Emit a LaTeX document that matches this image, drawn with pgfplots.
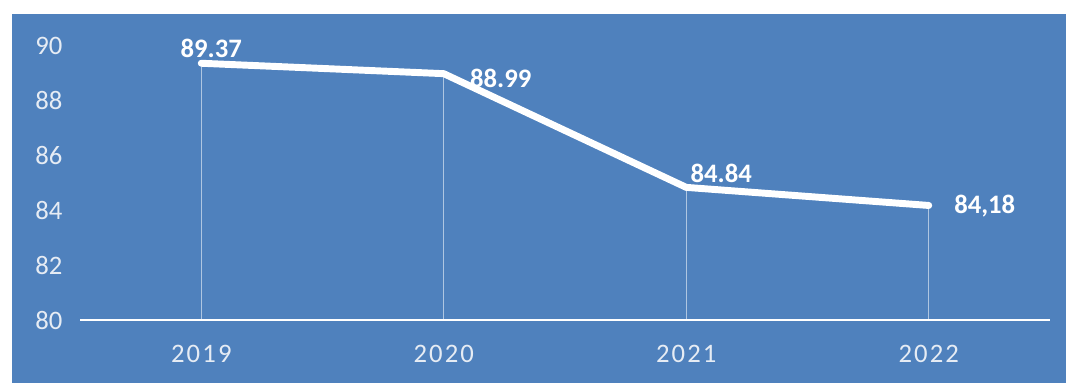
\documentclass[border=0pt]{standalone}
\usepackage{fontspec}
\setmainfont{Carlito}
\newfontfamily\spaced[LetterSpace=8]{Carlito}
\usepackage{pgfplots}
\usepackage{pgfplotstable}
\pgfplotsset{compat=1.18}
\definecolor{bgblue}{RGB}{79,129,189}
\definecolor{ticktext}{RGB}{230,236,244}

\pgfplotstableread{
x y lab dx dy
0 89.37 89.37 7.5 11.25
1 88.99 88.99 42.75 -3.75
2 84.84 84.84 26.25 10.5
3 84.18 84,18 42 -0.75
}\datatable

\begin{document}
\begin{tikzpicture}
\begin{axis}[
  set layers,
  scale only axis,
  width=727.5pt, height=205.5pt,
  xmin=-0.5, xmax=3.5,
  ymin=80, ymax=90,
  clip mode=individual,
  axis x line=bottom,
  axis y line=left,
  x axis line style={-, draw=white, line width=1.5pt},
  y axis line style={draw=none},
  major tick length=0pt,
  xtick={0,1,2,3},
  xticklabels={2019,2020,2021,2022},
  ytick={80,82,...,90},
  /pgf/number format/assume math mode=true,
  tick label style={font=\fontsize{20}{24}\selectfont, text=ticktext},
  xticklabel style={font=\fontsize{20}{24}\selectfont\spaced, anchor=north, inner sep=0pt, yshift=-19pt},
  yticklabel style={anchor=east, inner sep=0pt, xshift=-13pt},
]
\begin{pgfonlayer}{axis background}
  \fill[white] (rel axis cs:-0.0825,-0.2299) rectangle (rel axis cs:1.0165,1.1679);
  \fill[bgblue] (rel axis cs:-0.0701,-0.2299) rectangle (rel axis cs:1.0165,1.1168);
\end{pgfonlayer}
% drop lines
\addplot[ycomb, white, opacity=0.55, line width=0.8pt, mark=none]
  table[x=x, y=y] {\datatable};
% main line with value labels
\addplot[white, line width=5.2pt, line join=round, line cap=round, mark=none,
  point meta=explicit symbolic,
  visualization depends on={\thisrow{dx} \as \dx},
  visualization depends on={\thisrow{dy} \as \dy},
  nodes near coords,
  nodes near coords style={anchor=center, xshift=\dx pt, yshift=\dy pt,
    font=\fontsize{20}{24}\selectfont\bfseries, text=white},
] table[x=x, y=y, meta=lab] {\datatable};
\end{axis}
\end{tikzpicture}
\end{document}
